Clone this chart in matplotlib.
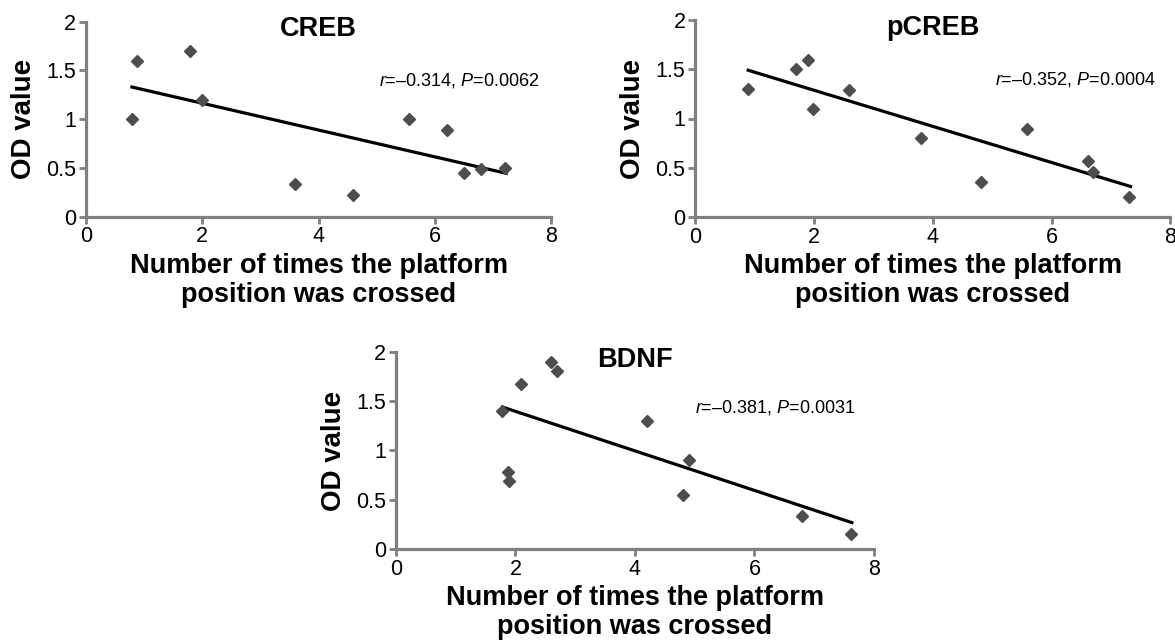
# ============================================
# OD value vs number of platform crossings
# CREB / pCREB / BDNF
# ============================================

import matplotlib.pyplot as plt

plt.rcParams['font.family'] = ['Liberation Sans', 'DejaVu Sans']
plt.rcParams['mathtext.fontset'] = 'custom'
plt.rcParams['mathtext.rm'] = 'Liberation Sans'
plt.rcParams['mathtext.it'] = 'Liberation Sans:italic'

# ============================================
# Dados
# ============================================

creb_x = [0.79, 0.88, 1.79, 1.99, 3.60, 4.59, 5.56, 6.21, 6.50, 6.80, 7.21]
creb_y = [1.00, 1.60, 1.70, 1.20, 0.34, 0.22, 1.00, 0.89, 0.45, 0.49, 0.50]
creb_fit_x = [0.79, 7.23]
creb_fit_y = [1.33, 0.445]

pcreb_x = [0.89, 1.69, 1.90, 1.99, 2.59, 3.80, 4.81, 5.59, 6.61, 6.70, 7.31]
pcreb_y = [1.30, 1.50, 1.59, 1.10, 1.29, 0.80, 0.36, 0.89, 0.57, 0.46, 0.20]
pcreb_fit_x = [0.89, 7.33]
pcreb_fit_y = [1.49, 0.31]

bdnf_x = [1.78, 1.87, 1.89, 2.10, 2.59, 2.69, 4.20, 4.80, 4.90, 6.79, 7.62]
bdnf_y = [1.40, 0.78, 0.69, 1.67, 1.90, 1.80, 1.30, 0.55, 0.90, 0.34, 0.15]
bdnf_fit_x = [1.78, 7.63]
bdnf_fit_y = [1.44, 0.27]

titles = ["CREB", "pCREB", "BDNF"]
stats = [
    r"$\mathit{r}$=–0.314, $\mathit{P}$=0.0062",
    r"$\mathit{r}$=–0.352, $\mathit{P}$=0.0004",
    r"$\mathit{r}$=–0.381, $\mathit{P}$=0.0031",
]

x_ticks = [0, 2, 4, 6, 8]
x_tick_labels = ["0", "2", "4", "6", "8"]
y_ticks = [0, 0.5, 1, 1.5, 2]
y_tick_labels = ["0", "0.5", "1", "1.5", "2"]

x_label = "Number of times the platform\nposition was crossed"
y_label = "OD value"

# ============================================
# Layout (pixels na figura de 1175x643)
# ============================================

W, H = 1175, 643
# left, top(y=2), width, height
boxes = [
    (86, 21.7, 465, 195),
    (695.3, 20, 475, 197),
    (396, 351.7, 478, 197.6),
]
stats_pos = [(7.79, 1.40), (7.76, 1.395), (7.68, 1.44)]

axis_gray = "#808080"
marker_gray = "#4d4d4d"

fig = plt.figure(figsize=(W / 100, H / 100), dpi=100)


def desenha(box, x, y, fit_x, fit_y, title, stat, pos):
    left, top, w, h = box
    ax = fig.add_axes([left / W, 1 - (top + h) / H, w / W, h / H])

    ax.plot(fit_x, fit_y, color="black", lw=2.3, zorder=2)
    ax.plot(x, y, "D", color=marker_gray, ms=6, ls="none", zorder=3,
            clip_on=False)

    ax.set_xlim(0, 8)
    ax.set_ylim(0, 2)
    ax.set_xticks(x_ticks, x_tick_labels)
    ax.set_yticks(y_ticks, y_tick_labels)

    for s in ["top", "right"]:
        ax.spines[s].set_visible(False)
    for s in ["left", "bottom"]:
        ax.spines[s].set_color(axis_gray)
        ax.spines[s].set_linewidth(2.3)

    ax.tick_params(direction="out", length=5, width=2, color=axis_gray,
                   labelsize=15.5, pad=2)

    ax.set_xlabel(x_label, fontsize=19.5, fontweight="bold", linespacing=1.15)
    ax.xaxis.set_label_coords(0.5, -36 / h)
    ax.set_ylabel(y_label, fontsize=20, fontweight="bold")
    ax.yaxis.set_label_coords(-49 / w, 0.5)

    ax.text(0.5, 0.96, title, transform=ax.transAxes, ha="center",
            va="center", fontsize=19.5, fontweight="bold")
    ax.text(pos[0], pos[1], stat, ha="right", va="center", fontsize=13)
    return ax


desenha(boxes[0], creb_x, creb_y, creb_fit_x, creb_fit_y, titles[0], stats[0], stats_pos[0])
desenha(boxes[1], pcreb_x, pcreb_y, pcreb_fit_x, pcreb_fit_y, titles[1], stats[1], stats_pos[1])
desenha(boxes[2], bdnf_x, bdnf_y, bdnf_fit_x, bdnf_fit_y, titles[2], stats[2], stats_pos[2])

fig.savefig("out.png", dpi=100)
